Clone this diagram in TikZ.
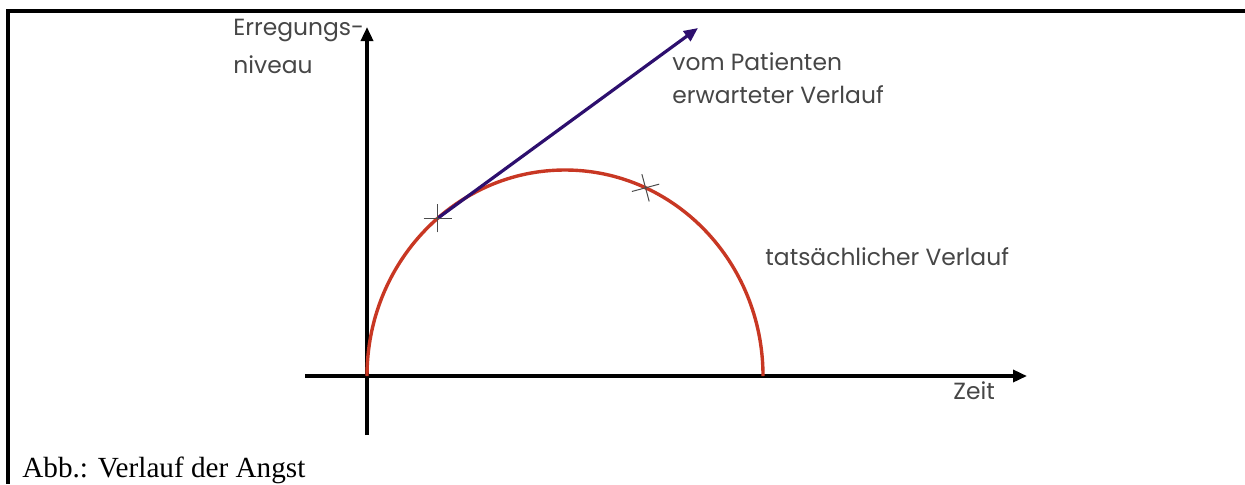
\documentclass[tikz,border=0pt]{standalone}
\usepackage{fontspec}
\setmainfont{Liberation Serif}
\newfontfamily\gothic{Poppins}
\usetikzlibrary{arrows.meta,shapes.misc}
\definecolor{kurve}{RGB}{200,55,35}
\definecolor{erwart}{RGB}{45,15,110}
\definecolor{beschr}{RGB}{70,70,70}

\begin{document}
\begin{tikzpicture}[x=0.5pt,y=0.5pt,
  rahmen/.style={line width=1.8pt},
  achse/.style={line width=1.7pt,-{Triangle[length=7pt,width=6pt]}},
  verlauf/.style={line width=1.7pt,kurve},
  pfeil/.style={line width=1.6pt,erwart,-{Triangle[length=7pt,width=6pt]}},
  kreuz/.style={cross out,draw=black!70,line width=0.5pt,minimum size=9.5pt,inner sep=0pt},
  lab/.style={font=\gothic\fontsize{11.7}{16.5}\selectfont,text=beschr,inner sep=0pt,anchor=base west,align=left}]
\useasboundingbox (0,0) rectangle (1245,484);
% Rahmen
\draw[rahmen] (1245,473) -- (8,473) -- (8,0);
% Achsen
\coordinate (o) at (367,108);
\coordinate (yu) at (367,49);
\coordinate (yo) at (367,457);
\coordinate (xl) at (305,108);
\coordinate (xr) at (1027,108);
\coordinate (m) at (565,108);
\draw[achse] (yu) -- (yo);
\draw[achse] (xl) -- (xr);
% tatsaechlicher Verlauf
\draw[verlauf] (o) arc[start angle=180,end angle=0,x radius=198,y radius=206];
\path (m) ++(130:198 and 206) coordinate (p1);
\path (m) ++(66:198 and 206) coordinate (p2);
\coordinate (spitze) at (698,456);
% erwarteter Verlauf
\draw[pfeil] (p1) -- (spitze);
\node[kreuz,rotate=45] (k1) at (p1) {};
\node[kreuz,rotate=60] (k2) at (p2) {};
% Beschriftung (base = letzte Zeile)
\node[lab] (niveau) at (233,411) {Erregungs-\\[2.5pt]niveau};
\node[lab] (erwartet) at (672,381) {vom Patienten\\erwarteter Verlauf};
\node[lab] (tats) at (765,219) {tatsächlicher Verlauf};
\node[lab] (zeit) at (953,85) {Zeit};
\node[font=\fontsize{14.6}{16}\selectfont,anchor=base west,inner sep=0pt] (abb) at (22,7) {Abb.: Verlauf der Angst};
\end{tikzpicture}
\end{document}
